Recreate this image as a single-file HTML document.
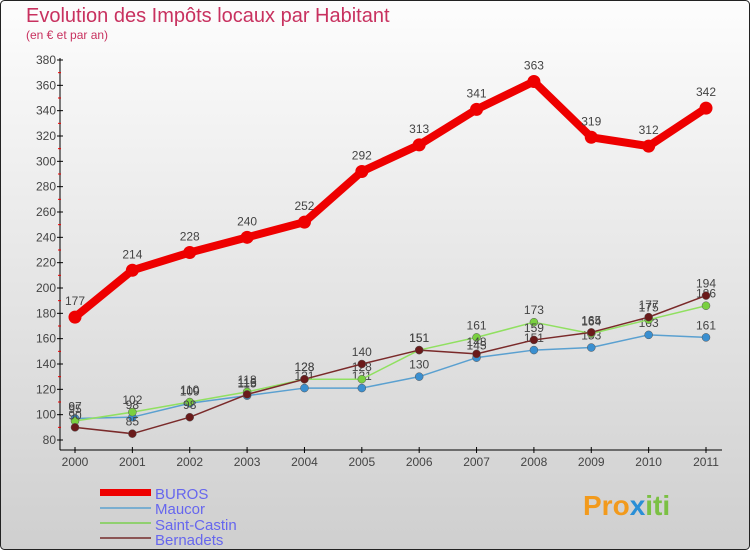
<!DOCTYPE html>
<html><head><meta charset="utf-8"><style>
body{margin:0}
svg{display:block;font-family:"Liberation Sans",sans-serif}
</style></head><body>
<svg id="c" width="750" height="550" viewBox="0 0 750 550">
<defs><linearGradient id="bg" x1="0" y1="0" x2="0" y2="1"><stop offset="0" stop-color="#fdfdfd"/><stop offset="1" stop-color="#cfcfcf"/></linearGradient></defs>
<rect x="0.5" y="0.5" width="749" height="549" rx="4" fill="url(#bg)" stroke="#222"/>
<text x="26" y="22" font-size="20" fill="#c8315f">Evolution des Impôts locaux par Habitant</text>
<text x="26" y="39" font-size="12" fill="#c8315f">(en € et par an)</text>
<g id="axes"></g><g id="series"></g>
<g>
<rect x="100" y="489" width="51" height="7" fill="#e00"/>
<text x="155" y="499" font-size="15" fill="#6666ee">BUROS</text>
<rect x="100" y="507" width="51" height="2" fill="#7aaed0"/>
<text x="155" y="514" font-size="15" fill="#6666ee">Maucor</text>
<rect x="100" y="522" width="51" height="2" fill="#90d070"/>
<text x="155" y="530" font-size="15" fill="#6666ee">Saint-Castin</text>
<rect x="100" y="537" width="51" height="2" fill="#8b5555"/>
<text x="155" y="545" font-size="15" fill="#6666ee">Bernadets</text>
</g>
<text x="583" y="515" font-size="28" font-weight="bold" fill="#f29a1c">Pro<tspan fill="#2a8fd6">x</tspan><tspan fill="#7bc043">iti</tspan></text>
</svg>
<script>
const years=["2000","2001","2002","2003","2004","2005","2006","2007","2008","2009","2010","2011"];
const yTicks=[80,100,120,140,160,180,200,220,240,260,280,300,320,340,360,380];
const buros=[177,214,228,240,252,292,313,341,363,319,312,342];
const maucor=[97,98,109,115,121,121,130,145,151,153,163,161];
const saintCastin=[95,102,110,118,128,128,151,161,173,164,175,186];
const bernadets=[90,85,98,116,128,140,151,148,159,165,177,194];
const NS="http://www.w3.org/2000/svg";
const X=i=>75+i*(706-75)/(years.length-1);
const Y=v=>440-(v-80)*(380/300);
function mk(tag,attrs,parent){const e=document.createElementNS(NS,tag);for(const k in attrs)e.setAttribute(k,attrs[k]);parent.appendChild(e);return e;}
const ax=document.getElementById('axes');
let l=mk('line',{x1:60,y1:58,x2:60,y2:450,stroke:'#000'},ax);


l=mk('line',{x1:60,y1:450,x2:722,y2:450,stroke:'#000'},ax);


yTicks.forEach((v,i)=>{
  mk('line',{x1:57,y1:Y(v),x2:63,y2:Y(v),stroke:'#000'},ax);
  if(i<yTicks.length-1) mk('line',{x1:58,y1:Y(v+10),x2:61,y2:Y(v+10),stroke:'#e00'},ax);
  const t=mk('text',{x:56,y:Y(v)+4,'font-size':12,fill:'#444','text-anchor':'end'},ax);
  t.textContent=v;
  
  
});
years.forEach((y,i)=>{
  mk('line',{x1:X(i),y1:447,x2:X(i),y2:453,stroke:'#000'},ax);
  const t=mk('text',{x:X(i),y:466,'font-size':12,fill:'#444','text-anchor':'middle'},ax);
  t.textContent=y;
  
  
});
const sg=document.getElementById('series');
function draw(data,name,color,w,r,dot,lab){
  const g=mk('g',{},sg);
  
  
  const p=mk('polyline',{points:data.map((v,i)=>X(i)+','+Y(v)).join(' '),fill:'none',stroke:color,'stroke-width':w,'stroke-linejoin':'round'},g);
  
  
  data.forEach((v,i)=>{
    const c=mk('circle',{cx:X(i),cy:Y(v),r:r,fill:dot,stroke:w>3?'none':'#555','stroke-width':0.5},g);
    
    
    const t=mk('text',{x:X(i),y:Y(v)-(w>3?12:8),'font-size':12,fill:'#444','text-anchor':'middle'},g);
    t.textContent=v;
    
    
  });
}
draw(maucor,'maucor','#5aa0d0',1.5,4,'#3a8fd0');
draw(saintCastin,'saint-castin','#90e060',1.5,4,'#7ad040');
draw(bernadets,'bernadets','#7a2a2a',1.5,4,'#6a1a1a');
draw(buros,'buros','#ee0000',8,6.5,'#ee0000');
</script>
</body></html>
